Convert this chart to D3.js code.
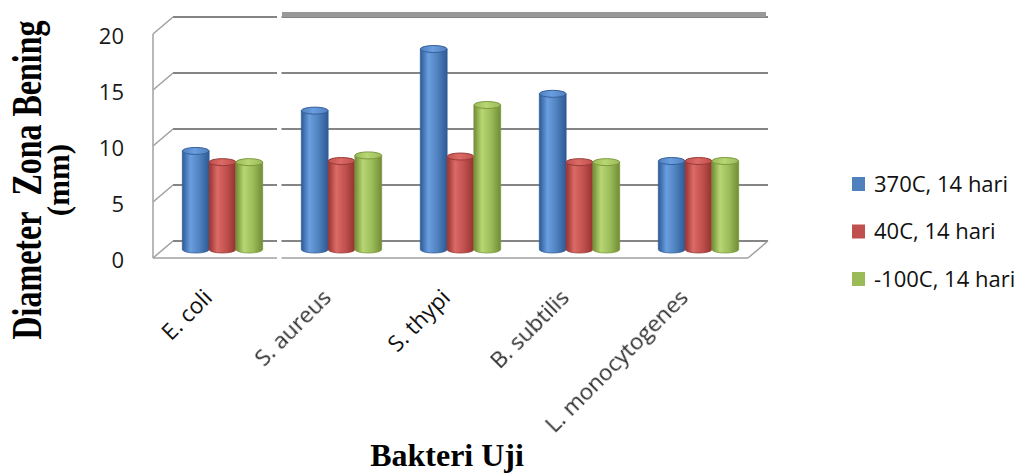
<!DOCTYPE html>
<html>
<head>
<meta charset="utf-8">
<script src="https://cdn.jsdelivr.net/npm/d3@7"></script>
<style>
  html, body { margin: 0; padding: 0; background: #fff; }
  svg { display: block; }
</style>
</head>
<body>
<svg id="chart" width="1029" height="475"></svg>
<script>
// Bacteria tested
const categories = ["E. coli", "S. aureus", "S. thypi", "B. subtilis", "L. monocytogenes"];
// Storage conditions (legend entries)
const seriesNames = ["370C, 14 hari", "40C, 14 hari", "-100C, 14 hari"];
// Clear-zone diameter (mm) per storage condition
const values37 = [8.8, 12.4, 17.9, 13.9, 7.9];
const values4 = [7.8, 7.9, 8.3, 7.8, 7.9];
const valuesMinus10 = [7.8, 8.4, 12.9, 7.8, 7.9];
const yTicks = [0, 5, 10, 15, 20];

const seriesValues = [values37, values4, valuesMinus10];
const palette = [
  { base: "#4f81bd", dark: "#2c5a96", light: "#6a9ee0", rim: "#355f99" },
  { base: "#c0504d", dark: "#943330", light: "#dc6a66", rim: "#983a37" },
  { base: "#9bbb59", dark: "#718c36", light: "#b8d673", rim: "#7a9a3c" }
];

const svg = d3.select("#chart");
const defs = svg.append("defs");

// Cylinder shading
palette.forEach((c, i) => {
  const g = defs.append("linearGradient").attr("id", "cyl" + i)
    .attr("x1", "0%").attr("x2", "100%").attr("y1", "0%").attr("y2", "0%");
  g.append("stop").attr("offset", "0%").attr("stop-color", c.dark);
  g.append("stop").attr("offset", "30%").attr("stop-color", c.light);
  g.append("stop").attr("offset", "65%").attr("stop-color", c.base);
  g.append("stop").attr("offset", "100%").attr("stop-color", c.dark);
  const t = defs.append("linearGradient").attr("id", "cap" + i)
    .attr("x1", "0%").attr("x2", "100%").attr("y1", "0%").attr("y2", "0%");
  t.append("stop").attr("offset", "0%").attr("stop-color", c.base);
  t.append("stop").attr("offset", "45%").attr("stop-color", c.light);
  t.append("stop").attr("offset", "100%").attr("stop-color", c.base);
});
defs.append("filter").attr("id", "soft")
  .append("feGaussianBlur").attr("stdDeviation", 0.55);

// 3D frame: back wall and depth offset toward the viewer
const backLeft = 173, backRight = 768;
const depthX = -20, depthY = 17;

const yBack = d3.scaleLinear().domain([0, 20]).range([241, 17]);
const yFront = d3.scaleLinear().domain([0, 20]).range([241 + depthY, 17 + depthY]);
const yMid = d3.scaleLinear().domain([0, 20]).range([241 + depthY / 2, 17 + depthY / 2]);

const x0 = d3.scaleBand().domain(categories)
  .range([backLeft + depthX / 2, backRight + depthX / 2]).padding(0);
const groupWidth = x0.bandwidth() * 0.675;
const x1 = d3.scaleBand().domain(d3.range(seriesNames.length)).range([0, groupWidth]).padding(0);

const gridColor = "#858585";
const frame = svg.append("g");

// back wall gridlines
frame.selectAll("line.grid").data(yTicks).join("line")
  .attr("class", "grid")
  .attr("x1", backLeft).attr("x2", backRight)
  .attr("y1", d => yBack(d)).attr("y2", d => yBack(d))
  .attr("stroke", gridColor).attr("stroke-width", 2);

// side wall gridlines
frame.selectAll("line.side").data(yTicks).join("line")
  .attr("class", "side")
  .attr("x1", backLeft + depthX).attr("x2", backLeft)
  .attr("y1", d => yFront(d)).attr("y2", d => yBack(d))
  .attr("stroke", "#a0a0a0").attr("stroke-width", 1.5);

// side wall front edge
frame.append("line")
  .attr("x1", backLeft + depthX).attr("x2", backLeft + depthX)
  .attr("y1", yFront(20)).attr("y2", yFront(0))
  .attr("stroke", "#a0a0a0").attr("stroke-width", 1.5);

// floor front and right edges
frame.append("line")
  .attr("x1", backLeft + depthX).attr("x2", backRight + depthX)
  .attr("y1", yFront(0)).attr("y2", yFront(0))
  .attr("stroke", "#a0a0a0").attr("stroke-width", 1.5);
frame.append("line")
  .attr("x1", backRight).attr("x2", backRight + depthX)
  .attr("y1", yBack(0)).attr("y2", yFront(0))
  .attr("stroke", "#a0a0a0").attr("stroke-width", 1.5);

// heavy top rule along the upper wall edge
frame.append("rect")
  .attr("x", 282).attr("y", yBack(20) - 5)
  .attr("width", backRight - 2 - 282).attr("height", 5)
  .attr("fill", "#999");

// cylinders
const ry = 3.5;
const bars = [];
categories.forEach((cat, ci) => {
  seriesValues.forEach((vals, si) => {
    bars.push({ cat, si, v: vals[ci] });
  });
});

const barG = svg.append("g");
const cyl = barG.selectAll("g.cyl").data(bars).join("g").attr("class", "cyl");
cyl.each(function (d) {
  const g = d3.select(this);
  const w = x1.bandwidth();
  const x = x0(d.cat) + (x0.bandwidth() - groupWidth) / 2 + x1(d.si);
  const yT = yMid(d.v), yB = yMid(0);
  const rx = w / 2;
  g.append("path")
    .attr("d", `M${x},${yT} L${x},${yB} A${rx},${ry} 0 0 0 ${x + w},${yB} L${x + w},${yT} Z`)
    .attr("fill", `url(#cyl${d.si})`)
    .attr("stroke", palette[d.si].rim).attr("stroke-width", 0.8);
  g.append("ellipse")
    .attr("cx", x + rx).attr("cy", yT).attr("rx", rx).attr("ry", ry)
    .attr("fill", `url(#cap${d.si})`)
    .attr("stroke", palette[d.si].rim).attr("stroke-width", 1);
});

// white seam through the plot
svg.append("rect").attr("x", 277).attr("y", 0).attr("width", 4.5).attr("height", 262).attr("fill", "#fff");

// y-axis tick labels
const yAxis = d3.axisLeft(yFront).tickValues(yTicks).tickSize(0).tickPadding(0).tickFormat(d3.format("d"));
const yAxisG = svg.append("g").attr("transform", "translate(124,2)").call(yAxis);
yAxisG.select(".domain").remove();
yAxisG.selectAll("text")
  .attr("font-family", "'Open Sans', sans-serif").attr("font-size", 22).attr("fill", "#1a1a1a");

// category labels
const crisp = new Set(["E. coli", "S. thypi"]);
svg.append("g").selectAll("text").data(categories).join("text")
  .attr("transform", d => `translate(${x0(d) + x0.bandwidth() / 2 - 9},299) rotate(-45)`)
  .attr("text-anchor", "end")
  .attr("font-family", "'Open Sans', sans-serif").attr("font-size", 22.5)
  .attr("fill", d => crisp.has(d) ? "#111" : "#2e2e2e")
  .attr("filter", d => crisp.has(d) ? null : "url(#soft)")
  .text(d => d);

// axis titles
const serif = "'Liberation Serif', 'Times New Roman', serif";
svg.append("text")
  .attr("transform", "translate(0,180) rotate(-90) scale(1,1.35)")
  .attr("x", 0).attr("y", 41 / 1.35)
  .attr("text-anchor", "middle")
  .attr("font-family", serif)
  .attr("font-weight", "bold").attr("font-size", 32).attr("fill", "#000")
  .text("Diameter\u00a0 Zona Bening");
svg.append("text")
  .attr("transform", "translate(0,180) rotate(-90)")
  .attr("x", 0).attr("y", 69)
  .attr("text-anchor", "middle")
  .attr("font-family", serif)
  .attr("font-weight", "bold").attr("font-size", 31).attr("fill", "#000")
  .text("(mm)");

svg.append("text")
  .attr("x", 447).attr("y", 466)
  .attr("text-anchor", "middle")
  .attr("font-family", serif)
  .attr("font-weight", "bold").attr("font-size", 32).attr("fill", "#000")
  .text("Bakteri Uji");

// legend
const legend = svg.append("g").attr("transform", "translate(852,184)");
const item = legend.selectAll("g").data(seriesNames).join("g")
  .attr("transform", (d, i) => `translate(0,${i * 47.5})`);
item.append("rect").attr("x", 0).attr("y", -7).attr("width", 13).attr("height", 14)
  .attr("fill", (d, i) => palette[i].base);
item.append("text").attr("x", 22).attr("y", 0).attr("dy", "0.36em")
  .attr("font-family", "'Open Sans', sans-serif").attr("font-size", 22).attr("fill", "#111")
  .text(d => d);
</script>
</body>
</html>
